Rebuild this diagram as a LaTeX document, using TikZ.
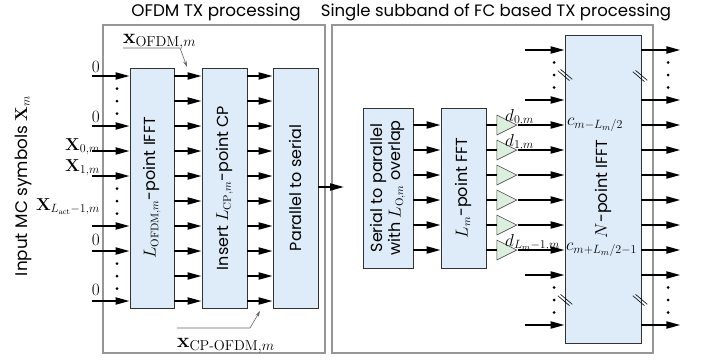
\documentclass[tikz,border=0pt]{standalone}
\usepackage[no-math]{fontspec}
\setmainfont{Poppins}
\usetikzlibrary{arrows.meta,shapes.geometric}
\definecolor{blkfill}{RGB}{222,236,249}
\definecolor{gainfill}{RGB}{220,238,221}
\definecolor{framegray}{RGB}{150,150,150}
\newcommand{\tridots}[2]{%
  \foreach \k in {-1,0,1}
    \fill (#1,{#2+12.5*\k}) circle (1.5pt);
}
\newcommand{\busmark}[2]{%
  \draw[line width=0.6pt] ({#1-7.2},{#2-4.3}) -- ({#1+4.5},{#2+5.7});
  \draw[line width=0.6pt] ({#1-4.5},{#2-5.7}) -- ({#1+7.2},{#2+4.3});
}

\begin{document}
\begin{tikzpicture}[x=1pt, y=-1pt,
    blk/.style={draw=black!80, line width=0.8pt, fill=blkfill, inner sep=0pt,
      font=\fontsize{16}{18}\selectfont},
    sig/.style={line width=2pt, -{Triangle[length=14pt,width=7pt]}},
    wire/.style={line width=2pt},
    gain/.style={isosceles triangle, isosceles triangle stretches,
      draw=black!70, line width=0.6pt, fill=gainfill,
      minimum width=20pt, minimum height=20pt, inner sep=0pt},
    grpframe/.style={draw=framegray, line width=2.5pt},
    ptr/.style={draw=black!60, line width=0.6pt, -{Stealth[length=6pt,width=3.5pt]}},
    lbl/.style={font=\fontsize{17}{19}\selectfont, inner sep=0pt},
    biglbl/.style={font=\fontsize{19.5}{21}\selectfont, inner sep=0pt},
    ttl/.style={font=\fontsize{16.8}{19}\selectfont, inner sep=0pt}]
  \useasboundingbox (0,0) rectangle (708,362);

  % the two processing groups
  \draw[grpframe] (103,25) rectangle (325,353);
  \draw[grpframe] (332,25) rectangle (653,353);
  \node[ttl] (ofdmttl) at (216,12) {OFDM TX processing};
  \node[ttl, font=\fontsize{16.5}{19}\selectfont] (fcttl) at (496,12) {Single subband of FC based TX processing};
  \node[ttl, rotate=90] (inlbl) at (23,186) {Input MC symbols $\mathbf{X}_m$};

  % blocks
  \node[blk, minimum width=44pt, minimum height=240pt] (ifft) at (152,188)
    {\rotatebox{90}{$L_{\mathrm{OFDM},m}$-point IFFT}};
  \node[blk, minimum width=45pt, minimum height=240pt] (cp) at (224.5,188)
    {\rotatebox{90}{Insert $L_{\mathrm{CP},m}$-point CP}};
  \node[blk, minimum width=45pt, minimum height=240pt] (ps) at (295.5,188)
    {\rotatebox{90}{Parallel to serial}};
  \node[blk, minimum width=50pt, minimum height=160pt] (sp) at (388,188)
    {\rotatebox{90}{\begin{tabular}{@{}c@{}}Serial to parallel\\with $L_{\mathrm{O},m}$ overlap\end{tabular}}};
  \node[blk, minimum width=45pt, minimum height=160pt] (fft) at (463.5,188)
    {\rotatebox{90}{$L_m$-point FFT}};
  \node[blk, minimum width=76pt, minimum height=308pt] (nifft) at (603,189)
    {\rotatebox{90}{$N$-point IFFT}};

  % rows
  \foreach \i in {1,...,10}
    \coordinate (r\i) at (92,{51+25*\i});
  \foreach \j in {1,...,12}
    \coordinate (q\j) at (525,{25+25*\j});

  % OFDM part
  \foreach \i in {1,3,4,5,7,8,10}
    \draw[sig] (r\i) -- (ifft.west |- r\i);
  \foreach \i in {1,...,10} {
    \draw[sig] (ifft.east |- r\i) -- (cp.west |- r\i);
    \draw[sig] (cp.east |- r\i) -- (ps.west |- r\i);
  }
  \coordinate (spin) at (344,187);
  \draw[sig] (ps.east |- spin) -- (spin);

  % FC part
  \foreach \j in {4,...,9} {
    \node[gain] (g\j) at (503,{25+25*\j}) {};
    \draw[sig] (sp.east |- q\j) -- (fft.west |- q\j);
    \draw[wire] (fft.east |- q\j) -- (g\j.west);
    \draw[sig] (g\j.apex) -- (nifft.west |- q\j);
  }
  \foreach \j in {1,3,10,12}
    \draw[sig] (q\j) -- (nifft.west |- q\j);
  \foreach \j in {1,3,4,5,6,7,8,9,10,12}
    \draw[sig] (nifft.east |- q\j) -- ++(39,0);

  \tridots{117}{101}
  \tridots{117}{201}
  \tridots{117}{276}
  \tridots{554}{75}
  \tridots{554}{300}
  \tridots{668}{75}
  \tridots{668}{300}
  \busmark{565}{75}
  \busmark{640}{76}
  \busmark{565}{300}
  \busmark{640}{300}

  % labels
  \node[lbl, anchor=base east] (z1) at (100,72) {$0$};
  \node[lbl, anchor=base east] (z2) at (100,122) {$0$};
  \node[lbl, anchor=base east] (x0) at (100,150) {$\mathbf{X}_{0,m}$};
  \node[lbl, anchor=base east] (x1) at (100,171) {$\mathbf{X}_{1,m}$};
  \node[lbl, anchor=base east] (xl) at (100,210) {$\mathbf{X}_{L_{\mathrm{act}}-1,m}$};
  \node[lbl, anchor=base east] (z3) at (100,245) {$0$};
  \node[lbl, anchor=base east] (z4) at (100,295) {$0$};

  \node[biglbl, anchor=base west] (xofdm) at (123,43) {$\mathbf{x}_{\mathrm{OFDM},m}$};
  \coordinate (xofdmknee) at (180,48);
  \coordinate (xofdmtip) at (187,67);
  \draw[ptr] (xofdm.west |- xofdmknee) -- (xofdmknee) -- (xofdmtip);

  \node[biglbl, anchor=base west] (xcp) at (177,347) {$\mathbf{x}_{\mathrm{CP\mathchar"2D OFDM},m}$};
  \coordinate (xcpknee) at (250,328);
  \coordinate (xcptip) at (260,311);
  \draw[ptr] (xcp.west |- xcpknee) -- (xcpknee) -- (xcptip);

  \node[lbl, font=\fontsize{18}{20}\selectfont, anchor=base west] (d0) at (505,121) {$d_{0,m}$};
  \node[lbl, font=\fontsize{18}{20}\selectfont, anchor=base west] (d1) at (505,146) {$d_{1,m}$};
  \node[lbl, font=\fontsize{18}{20}\selectfont, anchor=base west] (dl) at (505,246) {$d_{L_m-1,m}$};
  \node[lbl, font=\fontsize{18}{20}\selectfont, anchor=west] (cfirst) at (567,125) {$c_{m-L_m/2}$};
  \node[lbl, font=\fontsize{17.5}{20}\selectfont, anchor=west] (clast) at (566,250) {$c_{m+L_m/2-1}$};
\end{tikzpicture}
\end{document}
